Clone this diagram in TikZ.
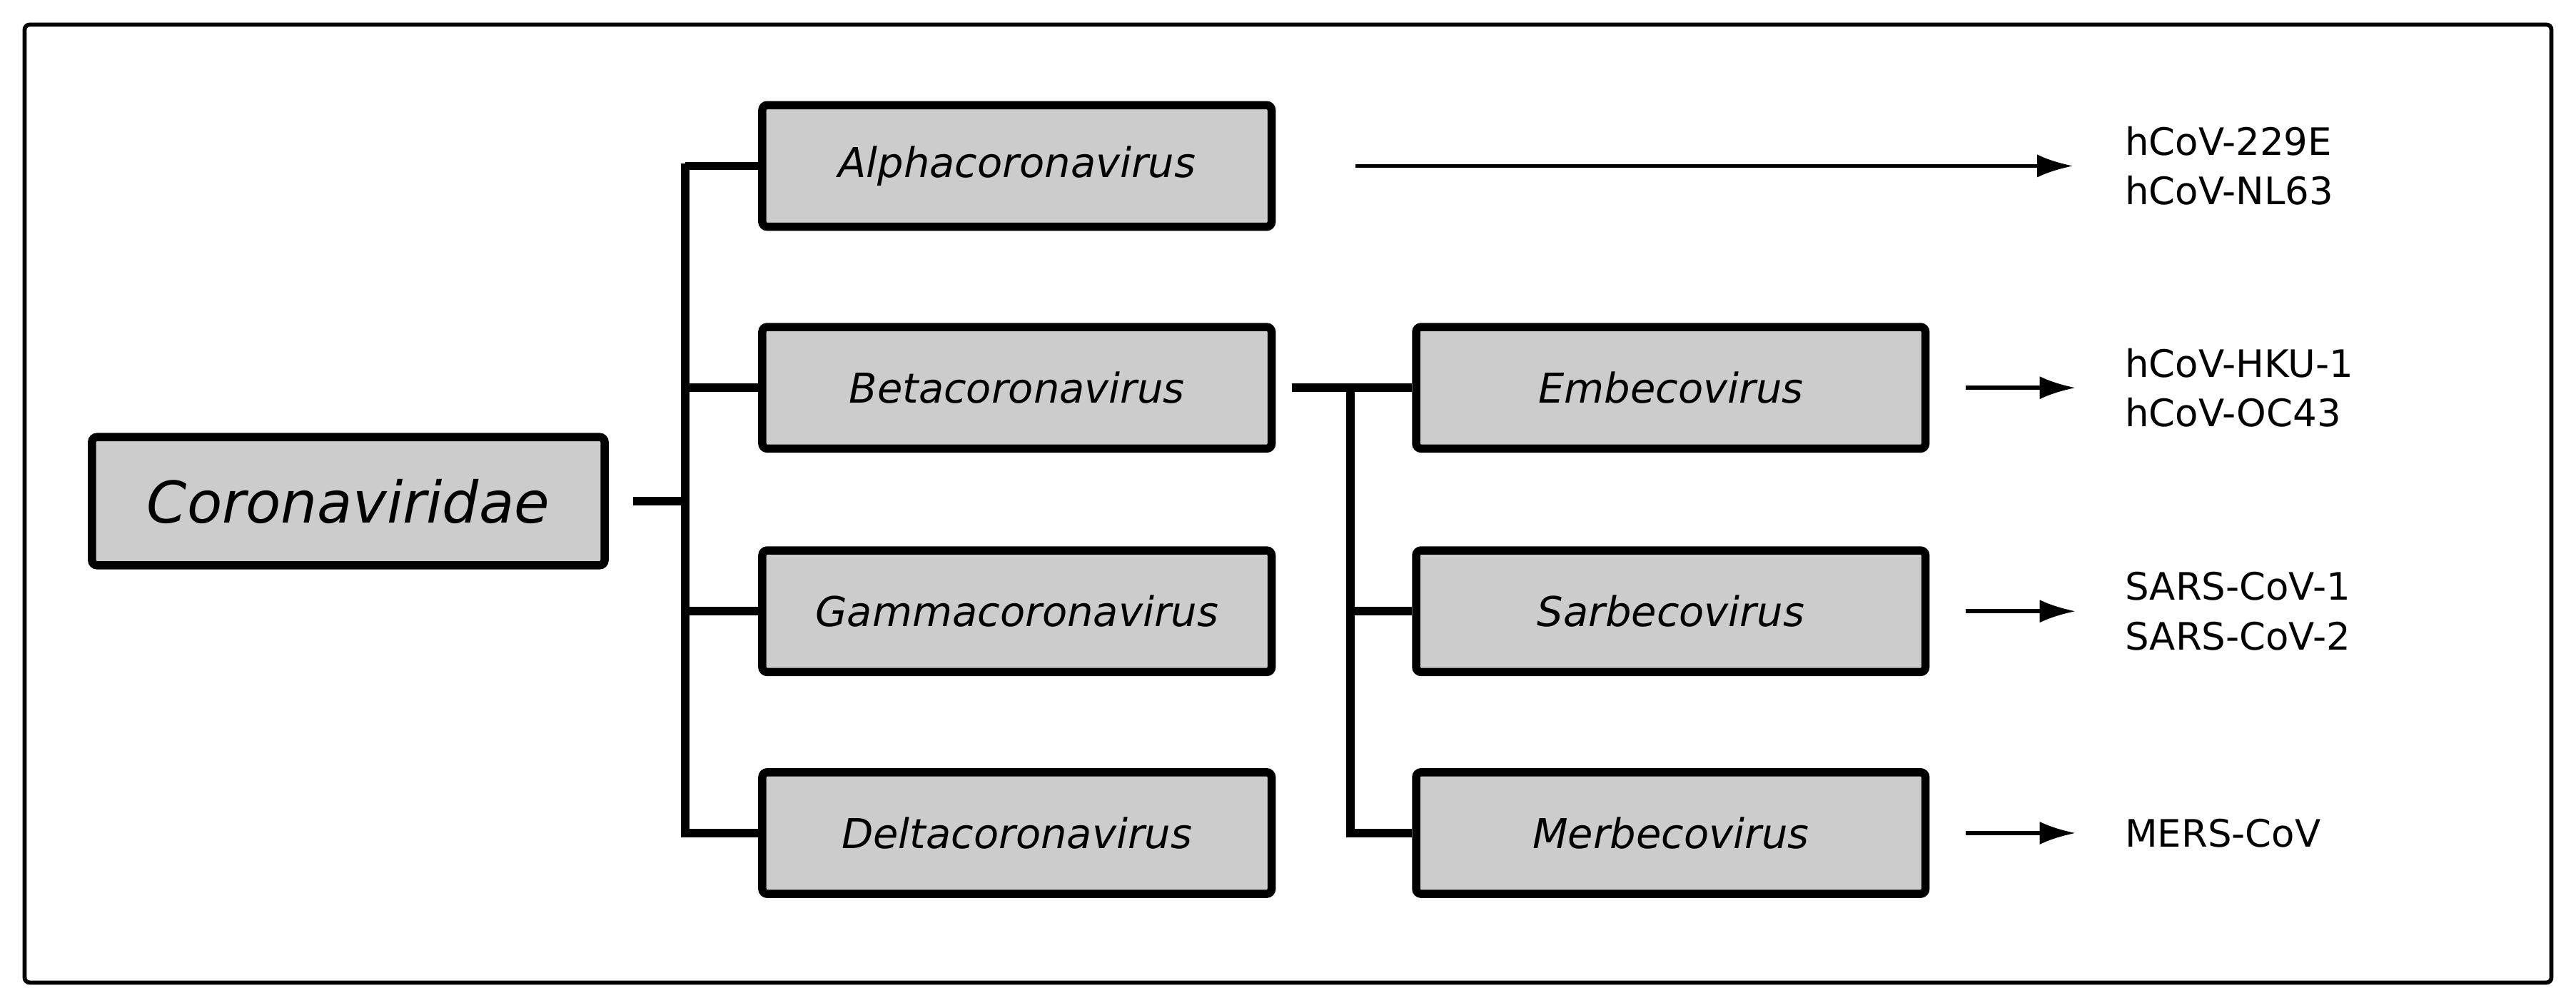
\documentclass[tikz,border=0pt]{standalone}
\usepackage{fontspec}
\setmainfont{DejaVu Sans}
\usetikzlibrary{arrows.meta}
\begin{document}
\begin{tikzpicture}[x=1pt,y=-1pt,
 gbox/.style={draw,line width=5pt,fill=black!20,rounded corners=3pt,minimum width=310pt,minimum height=74pt,font=\fontsize{25}{30}\selectfont\itshape,inner sep=0pt},
 tree/.style={line width=5pt},
 arr/.style={line width=2.5pt,-{Latex[length=22pt,width=14pt]}},
 lab/.style={anchor=west,align=left,font=\fontsize{23}{30}\selectfont}]
\useasboundingbox (0,0) rectangle (1568,610);
\draw[line width=2.5pt,rounded corners=3pt] (15,15) rectangle (1553,598);
\node[gbox,minimum width=312pt,minimum height=78pt,font=\fontsize{35}{40}\selectfont\itshape] (cor) at (212,305) {Coronaviridae};
\node[gbox] (alpha) at (619,101) {Alphacoronavirus};
\node[gbox] (beta) at (619,236) {Betacoronavirus};
\node[gbox] (gamma) at (619,372) {Gammacoronavirus};
\node[gbox] (delta) at (619,507) {Deltacoronavirus};
\node[gbox] (emb) at (1017,236) {Embecovirus};
\node[gbox] (sar) at (1017,372) {Sarbecovirus};
\node[gbox] (mer) at (1017,507) {Merbecovirus};
\coordinate (j1) at (417,305);
\coordinate (j2) at (822,236);
\draw[tree] (cor.east)++(15,0) -- (j1);
\draw[tree] (417,99.5) -- (417,509.5);
\foreach \n in {alpha,beta,gamma,delta} \draw[tree] (417,0 |- \n.west) -- (\n.west);
\draw[tree] (beta.east)++(10,0) -- (emb.west);
\draw[tree] (822,236) -- (822,509.5);
\foreach \n in {sar,mer} \draw[tree] (822,0 |- \n.west) -- (\n.west);
\coordinate (a0) at (825,101); \coordinate (a1) at (1262,101);
\draw[arr] (a0) -- (a1);
\foreach \n in {emb,sar,mer} \draw[arr] (\n.east)++(22,0) -- ++(67,0);
\node[lab] (l1) at (1290,101) {hCoV-229E\\hCoV-NL63};
\node[lab] (l2) at (1290,236) {hCoV-HKU-1\\hCoV-OC43};
\node[lab] (l3) at (1290,372) {SARS-CoV-1\\SARS-CoV-2};
\node[lab] (l4) at (1290,507) {MERS-CoV};
\end{tikzpicture}
\end{document}
